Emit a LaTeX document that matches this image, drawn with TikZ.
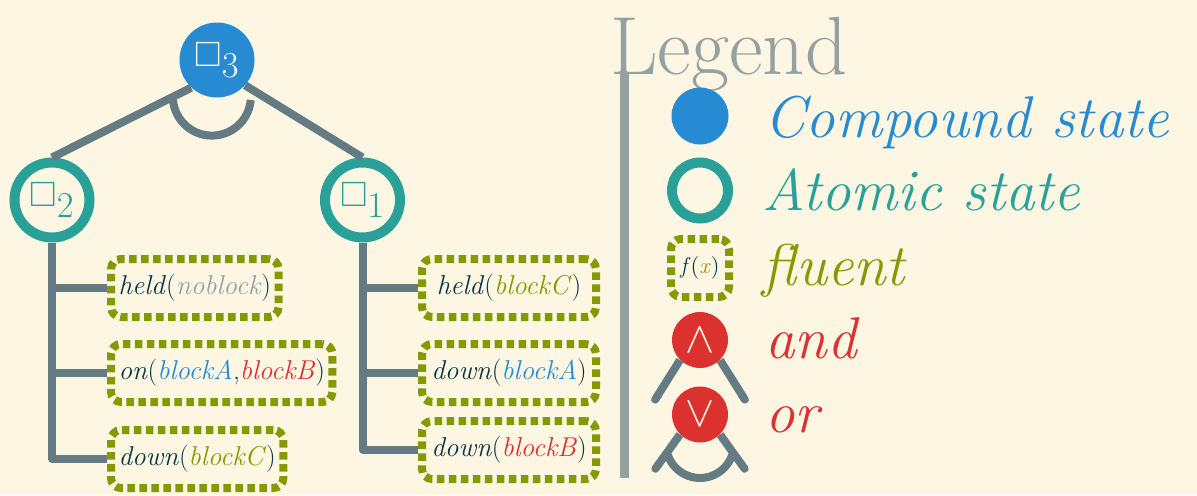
\documentclass[tikz,border=0pt]{standalone}
\usepackage{amsmath,amssymb}
\usepackage{fontspec}
\usepackage{tikz}
\usetikzlibrary{positioning}
\usetikzlibrary{arrows.meta}
\definecolor{base3}{HTML}{FDF6E3}
\definecolor{base02}{HTML}{073642}
\definecolor{base00}{HTML}{657B83}
\definecolor{base1}{HTML}{93A1A1}
\definecolor{sblue}{HTML}{268BD2}
\definecolor{scyan}{HTML}{2AA198}
\definecolor{sgreen}{HTML}{859900}
\definecolor{sred}{HTML}{DC322F}
\definecolor{syellow}{HTML}{B58900}
\tikzset{
    andor tree/.style={
            compound/.style={circle, fill=sblue, text=base3, minimum size=1.5cm, inner sep=0pt,
                    font=\fontsize{20}{21}\selectfont},
            atomic/.style={circle, draw=scyan, line width=0.2cm, text=scyan, minimum size=1.5cm,
                    inner sep=0pt, font=\fontsize{20}{21}\selectfont},
            fluent/.style={draw=sgreen, line width=0.16cm, dash pattern=on 0.15cm off 0.09cm,
                    rounded corners=0.2cm, minimum height=1.16cm, inner xsep=0.15cm, text=base02,
                    font=\fontsize{15.5}{18}\selectfont},
            branch/.style={draw=base00, line width=0.16cm, line join=round},
            leg/.style={branch, -{Round Cap[]}},
            gate/.style={circle, fill=sred, text=base3, minimum size=1.12cm, inner sep=0pt,
                    font=\fontsize{28}{30}\selectfont},
            keytext/.style={anchor=base west, inner sep=0pt, font=\fontsize{33.5}{36}\selectfont\itshape}
        }
    }
\begin{document}
\begin{tikzpicture}[andor tree]
    \path[use as bounding box, fill=base3] (0,0) rectangle (23.94,-9.9);
    % the tree
    \node[compound] (s3) at (4.34,-1.2) {$\square_{\textstyle 3}$};
    \node[atomic] (s2) at (1.04,-4.0) {$\square_{\textstyle 2}$};
    \node[atomic] (s1) at (7.25,-4.0) {$\square_{\textstyle 1}$};
    \draw[branch] (s3.-133) -- (s2.north);
    \draw[branch] (s3.-42) -- (s1.north);
    \draw[branch] ([shift={(-0.88,-0.8)}]s3.center) arc[start angle=185, end angle=355, radius=0.78cm];
    % fluents of s2
    \node[fluent, anchor=west] (held2) at (2.14,-5.76) {\textit{held}(\textcolor{base1}{\textit{noblock}})};
    \node[fluent, anchor=west] (on2) at (2.14,-7.46) {\textit{on}(\textcolor{sblue}{\textit{blockA}},\textcolor{sred}{\textit{blockB}})};
    \node[fluent, anchor=west] (down2) at (2.14,-9.18) {\textit{down}(\textcolor{sgreen}{\textit{blockC}})};
    \draw[branch] (s2.south) |- (down2.west);
    \draw[branch] (s2.south |- held2.west) -- (held2.west);
    \draw[branch] (s2.south |- on2.west) -- (on2.west);
    % fluents of s1
    \node[fluent, anchor=west, minimum width=3.48cm] (held1) at (8.36,-5.76) {\textit{held}(\textcolor{sgreen}{\textit{blockC}})};
    \node[fluent, anchor=west, minimum width=3.48cm] (downA1) at (8.36,-7.46) {\textit{down}(\textcolor{sblue}{\textit{blockA}})};
    \node[fluent, anchor=west, minimum width=3.48cm] (downB1) at (8.36,-9.0) {\textit{down}(\textcolor{sred}{\textit{blockB}})};
    \draw[branch] (s1.south) |- (downB1.west);
    \draw[branch] (s1.south |- held1.west) -- (held1.west);
    \draw[branch] (s1.south |- downA1.west) -- (downA1.west);
    % legend
    \node[anchor=base west, inner sep=0pt, text=base1, font=\fontsize{47}{50}\selectfont] (legend) at (12.2,-1.48) {Legend};
    \draw[base1, line width=0.18cm] (12.48,-1.48) -- (12.48,-9.56);
    \node[compound, minimum size=1.14cm] (kcomp) at (14,-2.32) {};
    \node[keytext, text=sblue] (tcomp) at (15.28,-2.74) {Compound state};
    \node[atomic, minimum size=1.12cm] (katom) at (14,-3.81) {};
    \node[keytext, text=scyan] (tatom) at (15.24,-4.2) {Atomic state};
    \node[fluent, minimum size=1.16cm, inner sep=0pt, font=\fontsize{13}{14}\selectfont] (kflu) at (14,-5.36) {\textit{f}(\textcolor{syellow}{\textit{x}})};
    \node[keytext, text=sgreen] (tflu) at (15.24,-5.7) {fluent};
    \node[gate] (and) at (14,-6.8) {$\wedge$};
    \coordinate (andL) at (13.06,-8.06);
    \coordinate (andR) at (14.94,-8.06);
    \draw[leg] (and.-135) -- (andL);
    \draw[leg] (and.-45) -- (andR);
    \node[keytext, text=sred] (tand) at (15.3,-7.16) {and};
    \node[gate] (or) at (14,-8.29) {$\vee$};
    \coordinate (orL) at (13.06,-9.44);
    \coordinate (orR) at (14.94,-9.44);
    \draw[leg] (or.-135) -- (orL);
    \draw[leg] (or.-45) -- (orR);
    \draw[branch] ([shift={(-0.643,-0.811)}]or.center) arc[start angle=199, end angle=341, radius=0.68cm];
    \node[keytext, text=sred] (tor) at (15.3,-8.64) {or};
\end{tikzpicture}
\end{document}
